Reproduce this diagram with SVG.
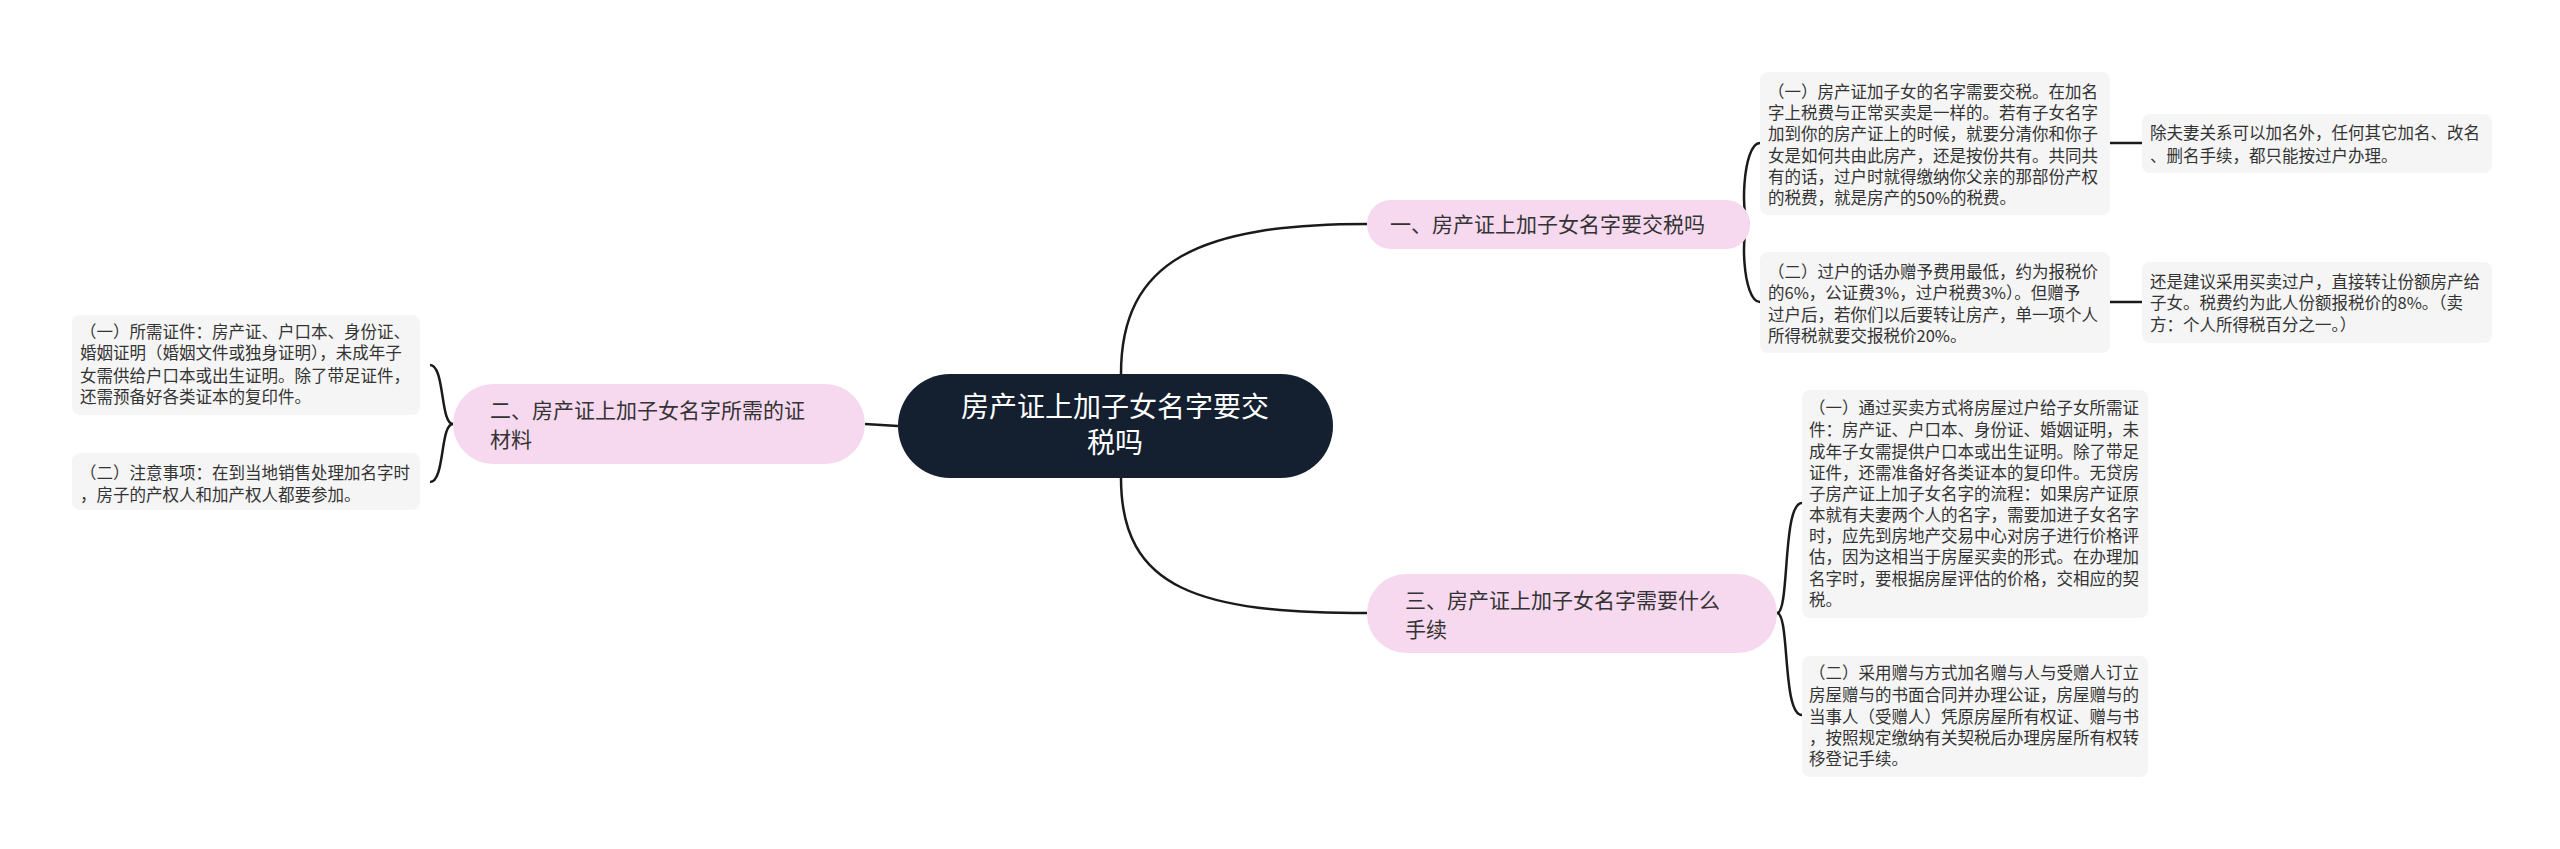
<svg xmlns="http://www.w3.org/2000/svg" width="2560" height="849" viewBox="0 0 2560 849">
<style>
text{font-family:"Noto Sans CJK SC","Noto Sans",sans-serif;fill:#333}
.leaf rect{fill:#f5f5f5}
.leaf text{font-size:16.5px}
.br rect{fill:#f7d9ef}
.br text{font-size:21px}
.c{fill:none;stroke:#1a1a1a;stroke-width:2.5}
</style>
<rect width="2560" height="849" fill="#fff"/>
<g id="connectors">
<path class="c" d="M1121 374 C1121 260 1200 224 1367 224"/>
<path class="c" d="M1121 478 C1121 590 1200 613 1367 613"/>
<path class="c" d="M898 426 L865 424"/>
<path class="c" d="M1750 224 C1740 224 1742 143 1760 143"/>
<path class="c" d="M1750 224 C1740 224 1742 302 1760 302"/>
<path class="c" d="M2110 143 L2142 143"/>
<path class="c" d="M2110 302 L2142 302"/>
<path class="c" d="M453 424 C440 424 445 365 430 365"/>
<path class="c" d="M453 424 C440 424 445 482 430 482"/>
<path class="c" d="M1777 613 C1790 613 1782 503 1802 503"/>
<path class="c" d="M1777 613 C1790 613 1782 715 1802 715"/>
</g>
<g id="center">
<rect x="898" y="374" width="435" height="104" rx="52" fill="#14202f"/>
<text x="1115" y="417" text-anchor="middle" style="font-size:28px;fill:#fff">房产证上加子女名字要交</text>
<text x="1115" y="453" text-anchor="middle" style="font-size:28px;fill:#fff">税吗</text>
</g>
<g id="b1" class="br">
<rect x="1367" y="200" width="383" height="49" rx="24"/>
<text x="1390" y="232">一、房产证上加子女名字要交税吗</text>
</g>
<g id="b2" class="br">
<rect x="453" y="384" width="412" height="80" rx="40"/>
<text x="490" y="418">二、房产证上加子女名字所需的证</text>
<text x="490" y="447">材料</text>
</g>
<g id="b3" class="br">
<rect x="1367" y="574" width="410" height="79" rx="39"/>
<text x="1405" y="608">三、房产证上加子女名字需要什么</text>
<text x="1405" y="637">手续</text>
</g>
<g id="l1a" class="leaf">
<rect x="1760" y="72" width="350" height="143" rx="8"/>
<text x="1768"><tspan x="1768" y="98">（一）房产证加子女的名字需要交税。在加名</tspan><tspan x="1768" y="119">字上税费与正常买卖是一样的。若有子女名字</tspan><tspan x="1768" y="140">加到你的房产证上的时候，就要分清你和你子</tspan><tspan x="1768" y="162">女是如何共由此房产，还是按份共有。共同共</tspan><tspan x="1768" y="183">有的话，过户时就得缴纳你父亲的那部份产权</tspan><tspan x="1768" y="204">的税费，就是房产的50%的税费。</tspan></text>
</g>
<g id="l1b" class="leaf">
<rect x="2142" y="114" width="350" height="59" rx="8"/>
<text><tspan x="2150" y="139">除夫妻关系可以加名外，任何其它加名、改名</tspan><tspan x="2150" y="162">、删名手续，都只能按过户办理。</tspan></text>
</g>
<g id="l1c" class="leaf">
<rect x="1760" y="252" width="350" height="101" rx="8"/>
<text><tspan x="1768" y="278">（二）过户的话办赠予费用最低，约为报税价</tspan><tspan x="1768" y="299">的6%，公证费3%，过户税费3%）。但赠予</tspan><tspan x="1768" y="321">过户后，若你们以后要转让房产，单一项个人</tspan><tspan x="1768" y="342">所得税就要交报税价20%。</tspan></text>
</g>
<g id="l1d" class="leaf">
<rect x="2142" y="262" width="350" height="81" rx="8"/>
<text><tspan x="2150" y="288">还是建议采用买卖过户，直接转让份额房产给</tspan><tspan x="2150" y="309">子女。税费约为此人份额报税价的8%。（卖</tspan><tspan x="2150" y="331">方：个人所得税百分之一。）</tspan></text>
</g>
<g id="l2a" class="leaf">
<rect x="72" y="315" width="348" height="100" rx="8"/>
<text><tspan x="80" y="338">（一）所需证件：房产证、户口本、身份证、</tspan><tspan x="80" y="359">婚姻证明（婚姻文件或独身证明），未成年子</tspan><tspan x="80" y="382">女需供给户口本或出生证明。除了带足证件，</tspan><tspan x="80" y="403">还需预备好各类证本的复印件。</tspan></text>
</g>
<g id="l2b" class="leaf">
<rect x="72" y="453" width="348" height="57" rx="8"/>
<text><tspan x="80" y="479">（二）注意事项：在到当地销售处理加名字时</tspan><tspan x="80" y="501">，房子的产权人和加产权人都要参加。</tspan></text>
</g>
<g id="l3a" class="leaf">
<rect x="1802" y="390" width="346" height="228" rx="8"/>
<text><tspan x="1809" y="414">（一）通过买卖方式将房屋过户给子女所需证</tspan><tspan x="1809" y="436">件：房产证、户口本、身份证、婚姻证明，未</tspan><tspan x="1809" y="458">成年子女需提供户口本或出生证明。除了带足</tspan><tspan x="1809" y="479">证件，还需准备好各类证本的复印件。无贷房</tspan><tspan x="1809" y="500">子房产证上加子女名字的流程：如果房产证原</tspan><tspan x="1809" y="521">本就有夫妻两个人的名字，需要加进子女名字</tspan><tspan x="1809" y="542">时，应先到房地产交易中心对房子进行价格评</tspan><tspan x="1809" y="563">估，因为这相当于房屋买卖的形式。在办理加</tspan><tspan x="1809" y="585">名字时，要根据房屋评估的价格，交相应的契</tspan><tspan x="1809" y="606">税。</tspan></text>
</g>
<g id="l3b" class="leaf">
<rect x="1802" y="656" width="346" height="121" rx="8"/>
<text><tspan x="1809" y="679">（二）采用赠与方式加名赠与人与受赠人订立</tspan><tspan x="1809" y="701">房屋赠与的书面合同并办理公证，房屋赠与的</tspan><tspan x="1809" y="723">当事人（受赠人）凭原房屋所有权证、赠与书</tspan><tspan x="1809" y="744">，按照规定缴纳有关契税后办理房屋所有权转</tspan><tspan x="1809" y="765">移登记手续。</tspan></text>
</g>
</svg>
